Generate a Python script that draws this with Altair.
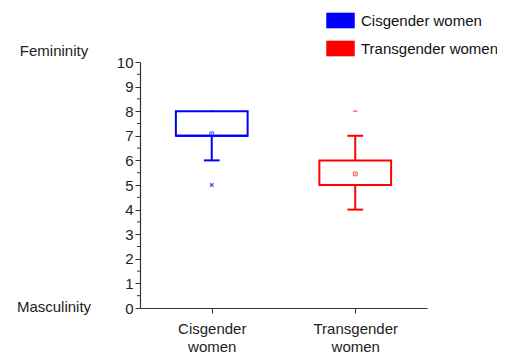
import altair as alt
import pandas as pd

groups = ["Cisgender women", "Transgender women"]
positions = [1, 3]
q1 = [7, 5]
q3 = [8, 6]
median = [7, 5]
mean = [7.08, 5.45]
whisker_lo = [6, 4]
whisker_hi = [8, 7]
colors = ["#0000FF", "#FF0000"]

# extra markers: min/max dashes and 1%/99% crosses
extra_group = ["Cisgender women", "Cisgender women", "Transgender women"]
extra_value = [8, 5, 8]
extra_kind = ["dash", "cross", "dash"]

major_ticks = list(range(11))
minor_ticks = [i + 0.5 for i in range(10)]

FONT = "Liberation Sans"
FS = 15

box_df = pd.DataFrame({
    "group": groups, "pos": positions, "q1": q1, "q3": q3,
    "median": median, "mean": mean, "lo": whisker_lo, "hi": whisker_hi,
})
box_df["left"] = box_df["pos"] - 0.5
box_df["right"] = box_df["pos"] + 0.5
box_df["capl"] = box_df["pos"] - 0.11
box_df["capr"] = box_df["pos"] + 0.11

pos_map = dict(zip(groups, positions))
extra_df = pd.DataFrame({"group": extra_group, "value": extra_value, "kind": extra_kind})
extra_df["pos"] = extra_df["group"].map(pos_map)

color_scale = alt.Scale(domain=groups, range=colors)

x_scale = alt.Scale(domain=[0, 4], nice=False, zero=False)
y_scale = alt.Scale(domain=[0, 10], nice=False)

x_axis = alt.Axis(
    values=[1, 3], title=None, grid=False,
    labelExpr="datum.value == 1 ? ['Cisgender', 'women'] : ['Transgender', 'women']",
    labelFont=FONT, labelFontSize=FS, labelColor="#222", labelLineHeight=18,
    labelPadding=8, tickSize=5, tickColor="#333", domainColor="#333", domainWidth=1.2,
    labelOverlap=False,
)
y_axis = alt.Axis(
    values=major_ticks, title=None, grid=False, format="d",
    tickSize=5,
    labelFont=FONT, labelFontSize=FS, labelColor="#222", labelPadding=2,
    tickColor="#333", domainColor="#333", domainWidth=1.2,
    labelOverlap=False, labelBound=False,
)

legend = alt.Legend(
    orient="none", legendX=186, legendY=-56, padding=0, title=None,
    symbolType="M-1,-0.54H1V0.54H-1Z", symbolSize=784, symbolOpacity=1,
    symbolStrokeWidth=0.5, symbolStrokeColor="#B89A7A",
    labelFont=FONT, labelFontSize=FS, labelColor="#111",
    labelOffset=6, rowPadding=4, symbolOffset=0,
)

X = lambda f: alt.X(f, scale=x_scale, axis=x_axis)
Y = lambda f: alt.Y(f, scale=y_scale, axis=y_axis)
C = alt.Color("group:N", scale=color_scale, legend=legend, title=None)

base = alt.Chart(box_df)

legend_layer = base.mark_square(filled=True, size=1, opacity=1).encode(
    x=X("pos:Q"), y=Y("mean:Q"), color=C,
)
box = base.mark_rect(filled=False, strokeWidth=2).encode(
    x=X("left:Q"), x2="right:Q", y=Y("q1:Q"), y2="q3:Q", color=C,
)
med = base.mark_rule(strokeWidth=2).encode(
    x=X("left:Q"), x2="right:Q", y=Y("median:Q"), color=C,
)
wlo = base.mark_rule(strokeWidth=2).encode(
    x=X("pos:Q"), y=Y("lo:Q"), y2="q1:Q", color=C,
)
whi = base.mark_rule(strokeWidth=2).encode(
    x=X("pos:Q"), y=Y("q3:Q"), y2="hi:Q", color=C,
)
cap_lo = base.mark_rule(strokeWidth=2).encode(
    x=X("capl:Q"), x2="capr:Q", y=Y("lo:Q"), color=C,
)
cap_hi = base.mark_rule(strokeWidth=2).transform_filter("datum.hi > datum.q3").encode(
    x=X("capl:Q"), x2="capr:Q", y=Y("hi:Q"), color=C,
)
mean_pts = base.mark_point(shape="square", size=14, filled=False, strokeWidth=1).encode(
    x=X("pos:Q"), y=Y("mean:Q"), color=C,
)

extra_base = alt.Chart(extra_df)
dash_pts = extra_base.transform_filter("datum.kind == 'dash'").mark_point(
    shape="M-1,0H1", size=20, strokeWidth=1.2, filled=False
).encode(x=X("pos:Q"), y=Y("value:Q"), color=C)
cross_pts = extra_base.transform_filter("datum.kind == 'cross'").mark_point(
    shape="M-1,-1L1,1M-1,1L1,-1", size=12, strokeWidth=1.3, filled=False
).encode(x=X("pos:Q"), y=Y("value:Q"), color=C)

# minor ticks of the y axis
minor_df = pd.DataFrame({"v": minor_ticks})
minor = alt.Chart(minor_df).mark_rule(color="#333", strokeWidth=1).encode(
    x=alt.value(-3), x2=alt.value(0), y=Y("v:Q"),
)

side_labels = ["Femininity", "Masculinity"]
side_values = [10.45, 0.05]
side_df = pd.DataFrame({"label": side_labels, "value": side_values})
side = alt.Chart(side_df).mark_text(
    font=FONT, fontSize=FS, color="#222", align="center", baseline="middle"
).encode(
    x=alt.value(-86), y=Y("value:Q"), text="label:N",
)

chart = alt.layer(
    legend_layer, box, med, wlo, whi, cap_lo, cap_hi, mean_pts, dash_pts, cross_pts,
    minor, side
).properties(
    width=287, height=246,
    autosize=alt.AutoSizeParams(type="none"),
    padding={"left": 132, "top": 54, "right": 70, "bottom": 48},
).configure_view(stroke=None)

chart.save("out.html", embed_options={"renderer": "svg", "actions": False})
